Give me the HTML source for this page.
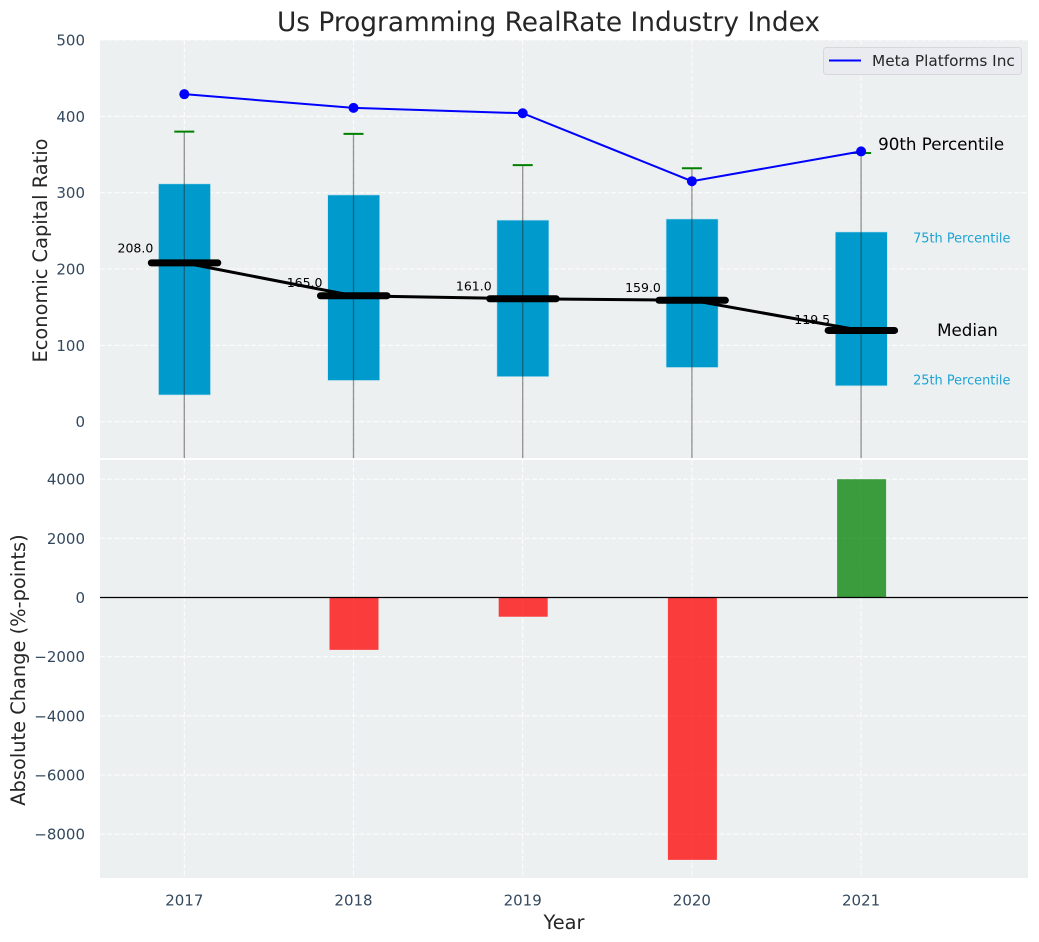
<!DOCTYPE html>
<html>
<head>
<meta charset="utf-8">
<title>Us Programming RealRate Industry Index</title>
<style>
html,body{margin:0;padding:0;background:#fff;}
svg{display:block;font-family:"DejaVu Sans","Liberation Sans",sans-serif;}
</style>
</head>
<body>
<svg id="chart" xmlns="http://www.w3.org/2000/svg" width="1039" height="942" viewBox="0 0 1039 942"></svg>
<script>
const years = [2017, 2018, 2019, 2020, 2021];
const metaValues = [429, 411, 404, 315, 354];
const whiskerHigh = [380, 377, 336, 332, 352];
const boxHigh = [311.5, 297, 264, 265.5, 248.5];
const medians = [208, 165, 161, 159, 119.5];
const boxLow = [35, 54, 59, 71, 47];
const whiskerLow = [-60, -60, -60, -60, -60];
const changes = [null, -1770, -650, -8870, 4000];
const topTicks = [0, 100, 200, 300, 400, 500];
const bottomTicks = [-8000, -6000, -4000, -2000, 0, 2000, 4000];

const svg = document.getElementById('chart');
const NS = 'http://www.w3.org/2000/svg';
const L = 100, R = 1028, T1 = 40, B1 = 458, T2 = 460, B2 = 878;
const x = v => 184.3 + (v - 2017) * 169.2;
const y1 = v => 421.7 - v * 0.7635;
const y2 = v => 597.5 - v * 0.02958;

function make(tag, attrs, parent, text) {
  const el = document.createElementNS(NS, tag);
  for (const k in attrs) el.setAttribute(k, attrs[k]);
  if (text !== undefined) el.textContent = text;
  (parent || svg).appendChild(el);
  return el;
}
function fmtTick(v) { return (v < 0 ? '\u2212' : '') + Math.abs(v); }

const defs = make('defs', {});
const clip1 = make('clipPath', {id: 'clip-top'}, defs);
make('rect', {x: L, y: T1, width: R - L, height: B1 - T1}, clip1);
const clip2 = make('clipPath', {id: 'clip-bottom'}, defs);
make('rect', {x: L, y: T2, width: R - L, height: B2 - T2}, clip2);

let el;
el = make('rect', {x: L, y: T1, width: R - L, height: B1 - T1, fill: '#ecf0f1'});


el = make('rect', {x: L, y: T2, width: R - L, height: B2 - T2, fill: '#ecf0f1'});



const gridStyle = {stroke: '#ffffff', 'stroke-width': 1.1, 'stroke-dasharray': '5 2.2', 'stroke-opacity': 0.85};
function gridLine(x1, y1v, x2, y2v) {
  const g = make('line', Object.assign({x1: x1, y1: y1v, x2: x2, y2: y2v}, gridStyle));
  
  
}
years.forEach(v => {
  gridLine(x(v), T1, x(v), B1);
  gridLine(x(v), T2, x(v), B2);
});
topTicks.forEach(v => gridLine(L, y1(v), R, y1(v)));
bottomTicks.forEach(v => gridLine(L, y2(v), R, y2(v)));

const tickStyle = {fill: '#34495e', 'font-size': 15};
topTicks.forEach(v => {
  const t = make('text', Object.assign({x: 85, y: y1(v) + 5.5, 'text-anchor': 'end'}, tickStyle), svg, fmtTick(v));
  
  
});
bottomTicks.forEach(v => {
  const t = make('text', Object.assign({x: 85, y: y2(v) + 5.5, 'text-anchor': 'end'}, tickStyle), svg, fmtTick(v));
  
  
});
years.forEach(v => {
  const t = make('text', Object.assign({x: x(v), y: 905.5, 'text-anchor': 'middle'}, tickStyle), svg, String(v));
  
  
});

const topGroup = make('g', {'clip-path': 'url(#clip-top)'});


const bottomGroup = make('g', {'clip-path': 'url(#clip-bottom)'});



years.forEach((v, i) => {
  const b = make('rect', {x: x(v) - 25.8, y: y1(boxHigh[i]), width: 52, height: y1(boxLow[i]) - y1(boxHigh[i]), fill: '#009acd', stroke: '#bfe3ef', 'stroke-width': 0.6}, topGroup);
  
  
  const w = make('line', {x1: x(v), y1: y1(whiskerHigh[i]), x2: x(v), y2: y1(whiskerLow[i]), stroke: '#2c2c2c', 'stroke-opacity': 0.5, 'stroke-width': 1.3}, topGroup);
  
  
  const c = make('line', {x1: x(v) - 10, y1: y1(whiskerHigh[i]), x2: x(v) + 10, y2: y1(whiskerHigh[i]), stroke: '#008000', 'stroke-width': 2}, topGroup);
  
  
  const lbl = make('text', {x: x(v) - 31, y: y1(medians[i] * 1.06) - 1, 'text-anchor': 'end', 'font-size': 12.5, fill: '#000'}, topGroup, medians[i].toFixed(1));
  
  
});

const medianPath = make('polyline', {points: years.map((v, i) => x(v) + ',' + y1(medians[i])).join(' '), fill: 'none', stroke: '#000', 'stroke-width': 3}, topGroup);


years.forEach((v, i) => {
  const m = make('line', {x1: x(v) - 33, y1: y1(medians[i]), x2: x(v) + 33.5, y2: y1(medians[i]), stroke: '#000', 'stroke-width': 7, 'stroke-linecap': 'round'}, topGroup);
  
  
});

const metaPath = make('polyline', {points: years.map((v, i) => x(v) + ',' + y1(metaValues[i])).join(' '), fill: 'none', stroke: '#0000ff', 'stroke-width': 2}, topGroup);


years.forEach((v, i) => {
  const p = make('circle', {cx: x(v), cy: y1(metaValues[i]), r: 5, fill: '#0000ff'}, topGroup);
  
  
});

years.forEach((v, i) => {
  if (changes[i] === null) return;
  const top = Math.min(y2(changes[i]), y2(0));
  const h = Math.abs(y2(changes[i]) - y2(0));
  const b = make('rect', {x: x(v) - 24, y: top, width: 49, height: h, fill: changes[i] < 0 ? '#ff0000' : '#008000', 'fill-opacity': 0.75}, bottomGroup);
  
  
});
el = make('line', {x1: L, y1: y2(0), x2: R, y2: y2(0), stroke: '#000', 'stroke-width': 1.2});



const last = x(2021);
el = make('text', {x: last + 17, y: 150, 'font-size': 16.7, fill: '#000'}, svg, '90th Percentile');


el = make('text', {x: last + 52, y: 242.5, 'font-size': 12.9, fill: '#1da3d3'}, svg, '75th Percentile');


el = make('text', {x: last + 76, y: 336, 'font-size': 16.7, fill: '#000'}, svg, 'Median');


el = make('text', {x: last + 52, y: 384.5, 'font-size': 12.9, fill: '#1da3d3'}, svg, '25th Percentile');



const legend = make('g', {});


make('rect', {x: 823.5, y: 47.5, width: 198, height: 27, rx: 3, fill: '#eaebf1', stroke: '#d6d8dc', 'stroke-width': 1}, legend);
make('line', {x1: 829, y1: 60.5, x2: 861, y2: 60.5, stroke: '#0000ff', 'stroke-width': 2}, legend);
el = make('text', {x: 872, y: 66, 'font-size': 15.3, fill: '#262626'}, legend, 'Meta Platforms Inc');



el = make('text', {x: 548.5, y: 31, 'font-size': 26.4, fill: '#262626', 'text-anchor': 'middle'}, svg, 'Us Programming RealRate Industry Index');


el = make('text', {x: 564, y: 929, 'font-size': 19.4, fill: '#262626', 'text-anchor': 'middle'}, svg, 'Year');


el = make('text', {'font-size': 19.4, fill: '#262626', 'text-anchor': 'middle', transform: 'translate(47,250.5) rotate(-90)'}, svg, 'Economic Capital Ratio');


el = make('text', {'font-size': 19.4, fill: '#262626', 'text-anchor': 'middle', transform: 'translate(25,670) rotate(-90)'}, svg, 'Absolute Change (%-points)');


</script>
</body>
</html>
